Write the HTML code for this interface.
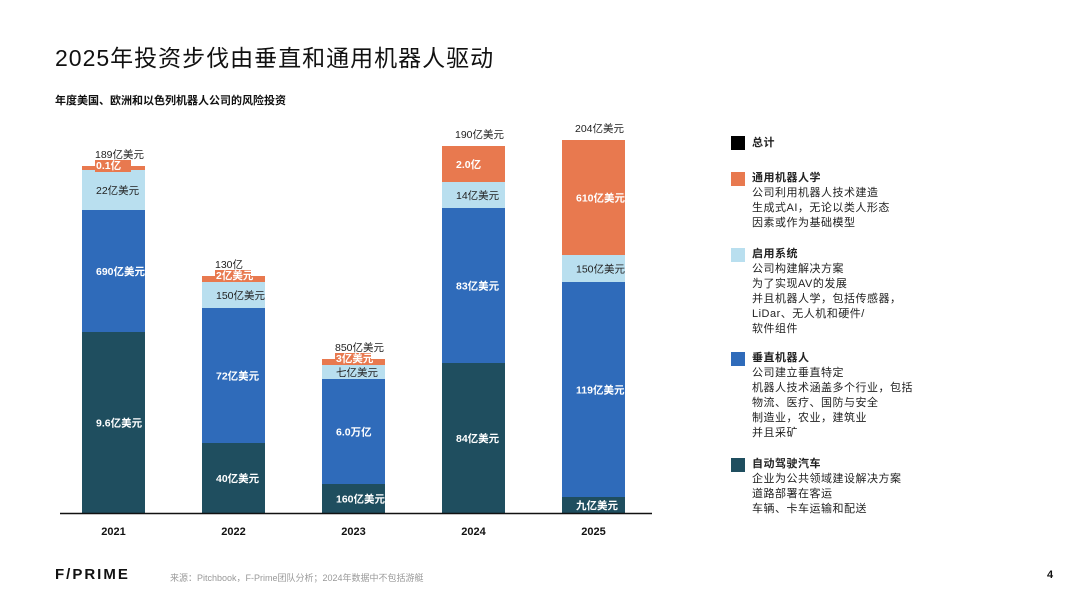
<!DOCTYPE html>
<html><head><meta charset="utf-8">
<style>
body{margin:0;background:#fff;}
#page{position:relative;width:1080px;height:608px;overflow:hidden;background:#fff;font-family:"Liberation Sans","Noto Sans CJK SC",sans-serif;}
.t{position:absolute;white-space:nowrap;}
.lg{position:absolute;left:731px;font-size:11px;line-height:15px;color:#222;letter-spacing:0.5px;}
.lg b{display:block;font-weight:bold;}
.sw{position:absolute;left:731px;width:14px;height:14px;}
</style></head><body>
<div id="page">
<div class="t" style="left:55px;top:39px;font-size:23px;color:#111;letter-spacing:1px;">2025年投资步伐由垂直和通用机器人驱动</div>
<div class="t" style="left:55px;top:92px;font-size:11px;font-weight:bold;color:#111;">年度美国、欧洲和以色列机器人公司的风险投资</div>
<svg id="chart" width="1080" height="608" style="position:absolute;left:0;top:0;"></svg>

<div class="sw" style="top:136px;background:#000;"></div>
<div class="lg" style="top:136px;left:752px;"><b>总计</b></div>
<div class="sw" style="top:172px;background:#E8794F;"></div>
<div class="lg" style="top:171px;left:752px;"><b>通用机器人学</b>公司利用机器人技术建造<br>生成式AI，无论以类人形态<br>因素或作为基础模型</div>
<div class="sw" style="top:248px;background:#B9DFEF;"></div>
<div class="lg" style="top:247px;left:752px;"><b>启用系统</b>公司构建解决方案<br>为了实现AV的发展<br>并且机器人学，包括传感器，<br>LiDar、无人机和硬件/<br>软件组件</div>
<div class="sw" style="top:352px;background:#2F6BBA;"></div>
<div class="lg" style="top:351px;left:752px;"><b>垂直机器人</b>公司建立垂直特定<br>机器人技术涵盖多个行业，包括<br>物流、医疗、国防与安全<br>制造业，农业，建筑业<br>并且采矿</div>
<div class="sw" style="top:458px;background:#1F4E5F;"></div>
<div class="lg" style="top:457px;left:752px;"><b>自动驾驶汽车</b>企业为公共领域建设解决方案<br>道路部署在客运<br>车辆、卡车运输和配送</div>

<div class="t" style="left:55px;top:566px;font-size:15px;font-weight:bold;letter-spacing:2px;color:#111;">F/PRIME</div>
<div class="t" style="left:170px;top:571px;font-size:9px;color:#999;">来源：Pitchbook，F-Prime团队分析；2024年数据中不包括游艇</div>
<div class="t" style="left:1047px;top:569px;font-size:11px;font-weight:bold;color:#111;">4</div>
</div>
<script>
const years=["2021","2022","2023","2024","2025"];
const autonomous=[181,70,29,150,16];
const vertical=[122,135,105,155,215];
const enabling=[40,26,14,26,27];
const general=[4,6,6,36,115];
const totalLabels=["189亿美元","130亿","850亿美元","190亿美元","204亿美元"];
const autoLabels=["9.6亿美元","40亿美元","160亿美元","84亿美元","九亿美元"];
const vertLabels=["690亿美元","72亿美元","6.0万亿","83亿美元","119亿美元"];
const enabLabels=["22亿美元","150亿美元","七亿美元","14亿美元","150亿美元"];
const genLabels=["0.1亿","2亿美元","3亿美元","2.0亿","610亿美元"];

const NS="http://www.w3.org/2000/svg";
const svg=document.getElementById('chart');
const baseY=513, x0=82, step=120, bw=63;
function xs(i){return x0+i*step;}
function ys(v){return baseY-v;}
function mk(tag,attrs){const e=document.createElementNS(NS,tag);for(const k in attrs)e.setAttribute(k,attrs[k]);svg.appendChild(e);return e;}
const series=[[autonomous,"#1F4E5F",autoLabels,"#fff","autonomous"],[vertical,"#2F6BBA",vertLabels,"#fff","vertical"],[enabling,"#B9DFEF",enabLabels,"#222","enabling"],[general,"#E8794F",genLabels,"#fff","general"]];
years.forEach((y,i)=>{
  let cum=0;
  series.forEach(s=>{
    const v=s[0][i];
    const r=mk('rect',{x:xs(i),y:ys(cum+v),width:bw,height:v,fill:s[1]});
    
    
    const small=v<12;
    const cy=small?ys(cum+v)+3:ys(cum+v/2)+4;
    if(small){
      const bg=mk('rect',{x:xs(i)+13,y:cy-9,width:s[2][i].length*10-4,height:12,fill:s[1]});
      
      
    }
    const t=mk('text',{x:xs(i)+14,y:cy,fill:s[3],'font-size':10.5,'font-weight':s[3]=="#fff"?'bold':'normal'});
    t.textContent=s[2][i];
    
    
    cum+=v;
  });
  const tt=mk('text',{x:xs(i)+13,y:ys(cum)-8,fill:'#222','font-size':10.5});
  tt.textContent=totalLabels[i];
  
  
  const xl=mk('text',{x:xs(i)+bw/2,y:535,'text-anchor':'middle',fill:'#111','font-size':11,'font-weight':'bold'});
  xl.textContent=y;
  
  
});
const ax=mk('line',{x1:60,y1:baseY+0.5,x2:652,y2:baseY+0.5,stroke:'#111','stroke-width':1.5});


</script>
</body></html>
